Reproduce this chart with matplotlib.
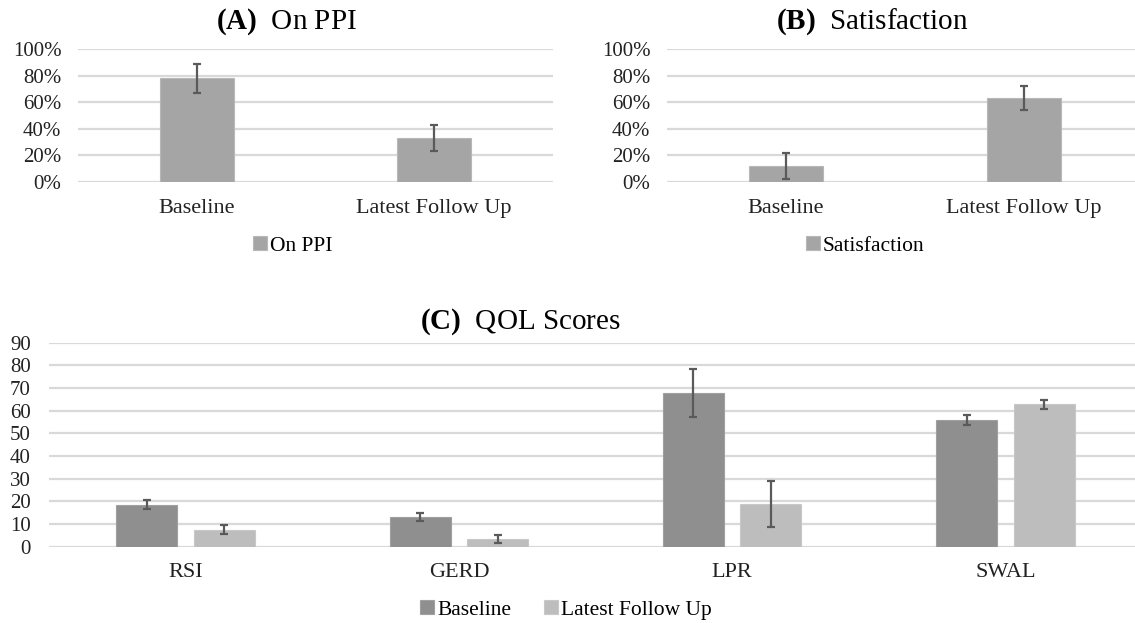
import numpy as np
import matplotlib
matplotlib.use("Agg")
import matplotlib.pyplot as plt

plt.rcParams['font.family'] = ['Liberation Serif', 'DejaVu Serif']
plt.rcParams['mathtext.fontset'] = 'custom'
plt.rcParams['mathtext.rm'] = 'Liberation Serif'
plt.rcParams['mathtext.bf'] = 'Liberation Serif:bold'

# data
periods = ['Baseline', 'Latest Follow Up']
on_ppi = [0.78, 0.33]
on_ppi_err = [0.11, 0.10]
satisfaction = [0.12, 0.63]
satisfaction_err = [0.095, 0.09]

qol_cats = ['RSI', 'GERD', 'LPR', 'SWAL']
qol_base = [18.6, 13.0, 67.7, 55.8]
qol_base_err = [2.1, 1.8, 10.6, 2.1]
qol_follow = [7.4, 3.3, 18.8, 62.8]
qol_follow_err = [2.0, 1.8, 10.1, 2.0]

W, H = 1135, 623
fig = plt.figure(figsize=(W / 100, H / 100), dpi=100)


def px_axes(left, right, top, bottom):
    return fig.add_axes([left / W, 1 - bottom / H, (right - left) / W, (bottom - top) / H])


def style(ax, ypad, xpad):
    for s in ax.spines.values():
        s.set_visible(False)
    ax.yaxis.grid(True, color='#d9d9d9', lw=1.6)
    ax.set_axisbelow(True)
    ax.tick_params(axis='both', length=0, colors='#222222')
    ax.tick_params(axis='y', pad=ypad, labelsize=15)
    ax.tick_params(axis='x', pad=xpad, labelsize=16)


err_kw = dict(ecolor='#5a5a5a', elinewidth=1.6, capsize=3.2, capthick=1.6)
pct = [f'{v}%' for v in range(0, 101, 20)]
leg_kw = dict(frameon=False, fontsize=15.5, handlelength=0.65, handleheight=0.65,
              handletextpad=0.15, borderaxespad=0)

# panel A and B
panels = [
    (78, 553, on_ppi, on_ppi_err, 'On PPI', 286, 293),
    (667, 1143, satisfaction, satisfaction_err, 'Satisfaction', 872, 865),
]
letters = ['A', 'B']
for (l, r, vals, errs, name, tx, lx), letter in zip(panels, letters):
    ax = px_axes(l, r, 49, 182)
    x = np.arange(len(periods))
    ax.bar(x, vals, 0.31, yerr=errs, color='#a5a5a5', edgecolor='#b8b8b8', lw=0.8,
           error_kw=err_kw, label=name)
    ax.set_xlim(-0.5, 1.5)
    ax.set_ylim(0, 1)
    ax.set_yticks(np.linspace(0, 1, 6))
    ax.set_yticklabels(pct)
    ax.set_xticks(x)
    ax.set_xticklabels(periods)
    style(ax, 12, 12)
    fig.text(tx / W, 1 - 22 / H, r'$\mathbf{(' + letter + r')}$  ' + name,
             ha='center', va='center', fontsize=21)
    ax.legend(loc='center', bbox_to_anchor=(lx / W, 1 - 246 / H),
              bbox_transform=fig.transFigure, **leg_kw)

# panel C
axc = px_axes(49, 1142, 342.7, 546.7)
xc = np.arange(len(qol_cats))
bw = 0.223
axc.bar(xc - 0.142, qol_base, bw, yerr=qol_base_err, color='#8f8f8f', edgecolor='#a0a0a0',
        lw=0.8, error_kw=err_kw, label='Baseline')
axc.bar(xc + 0.142, qol_follow, bw, yerr=qol_follow_err, color='#bdbdbd', edgecolor='#c8c8c8',
        lw=0.8, error_kw=err_kw, label='Latest Follow Up')
axc.set_xlim(-0.5, 3.5)
axc.set_ylim(0, 90)
axc.set_yticks(range(0, 91, 10))
axc.set_xticks(xc)
axc.set_xticklabels(qol_cats)
style(axc, 13, 12)
fig.text(520 / W, 1 - 322 / H, r'$\mathbf{(C)}$  QOL Scores', ha='center', va='center', fontsize=21)
axc.legend(loc='center', bbox_to_anchor=(566 / W, 1 - 610 / H), bbox_transform=fig.transFigure,
           ncol=2, columnspacing=1.5, **leg_kw)

fig.savefig('out.png', dpi=100, facecolor='white')
